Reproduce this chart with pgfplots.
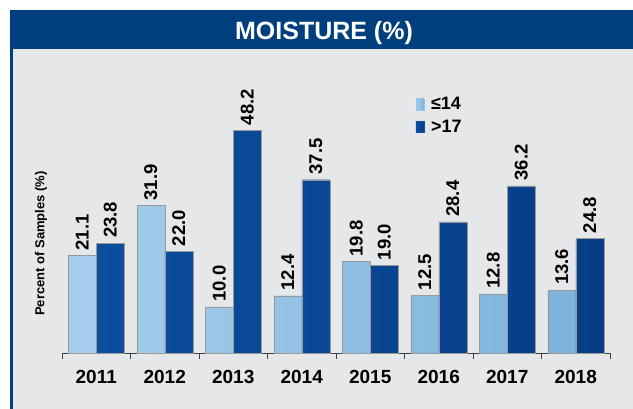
\documentclass[border=0pt]{standalone}
\usepackage{fontspec}
\setmainfont{Liberation Sans}
\usepackage{pgfplots}
\pgfplotsset{compat=1.18}

\definecolor{hdr}{HTML}{003F7D}
\definecolor{panel}{HTML}{E6E7E9}
\definecolor{lightL}{HTML}{A6CEEC}
\definecolor{lightM}{HTML}{93C2E6}
\definecolor{lightR}{HTML}{7DB3DD}
\definecolor{darkL}{HTML}{0C4E9F}
\definecolor{darkM}{HTML}{0E56AD}
\definecolor{darkR}{HTML}{063D86}

\begin{document}
\begin{tikzpicture}
\path[use as bounding box] (0pt,0pt) rectangle (633pt,409pt);
% panel and header band
\fill[panel] (10pt,0pt) rectangle (633pt,360pt);
\fill[hdr] (10pt,360pt) rectangle (633pt,399pt);
\fill[hdr] (10pt,0pt) rectangle (12.5pt,360pt);
\node[anchor=base, text=white, font=\bfseries\fontsize{25}{30}\selectfont] at (324pt,369.5pt) {MOISTURE (\%)};
\node[rotate=90, font=\bfseries\fontsize{13}{15}\selectfont] at (41pt,165.5pt) {Percent of Samples (\%)};

\begin{axis}[
    at={(62pt,56pt)}, anchor=south west,
    scale only axis, width=548pt, height=254.1pt,
    xmin=-0.5, xmax=7.5, ymin=0, ymax=55,
    axis y line=none, axis x line*=bottom,
    x axis line style={black!75, -},
    xtick={0,1,2,3,4,5,6,7},
    xticklabels={2011,2012,2013,2014,2015,2016,2017,2018},
    major tick length=0pt,
    minor xtick={-0.5,0.5,1.5,2.5,3.5,4.5,5.5,6.5,7.5},
    minor tick length=6pt, tick align=outside,
    tick style={black!75},
    xticklabel style={font=\bfseries\fontsize{19}{22}\selectfont, inner sep=0pt, yshift=-17pt},
    ybar=0pt, bar width=28pt,
    nodes near coords={\pgfmathprintnumber[fixed,fixed zerofill,precision=1,assume math mode=true]{\pgfplotspointmeta}},
    nodes near coords style={rotate=90, anchor=west, text=black, inner xsep=5pt, inner ysep=0pt,
        font=\bfseries\fontsize{18.5}{20}\selectfont},
    legend style={at={(0.645,1.015)}, anchor=north west, draw=none, fill=none,
        font=\bfseries\fontsize{18}{20}\selectfont, row sep=5pt, column sep=5pt, inner sep=0pt},
    legend cell align=left,
    clip=false,
]
\addplot[draw=black!40, line width=0.4pt, left color=lightL, middle color=lightM, right color=lightR,
    legend image code/.code={\fill[lightM] (0pt,-5.5pt) rectangle (8pt,5.5pt);}]
    coordinates {(0,21.1) (1,31.9) (2,10.0) (3,12.4) (4,19.8) (5,12.5) (6,12.8) (7,13.6)};
\addplot[draw=black!40, line width=0.4pt, left color=darkL, middle color=darkM, right color=darkR,
    legend image code/.code={\fill[darkL] (0pt,-5.5pt) rectangle (8pt,5.5pt);}]
    coordinates {(0,23.8) (1,22.0) (2,48.2) (3,37.5) (4,19.0) (5,28.4) (6,36.2) (7,24.8)};
\legend{≤14, >17}
\end{axis}
\end{tikzpicture}
\end{document}
